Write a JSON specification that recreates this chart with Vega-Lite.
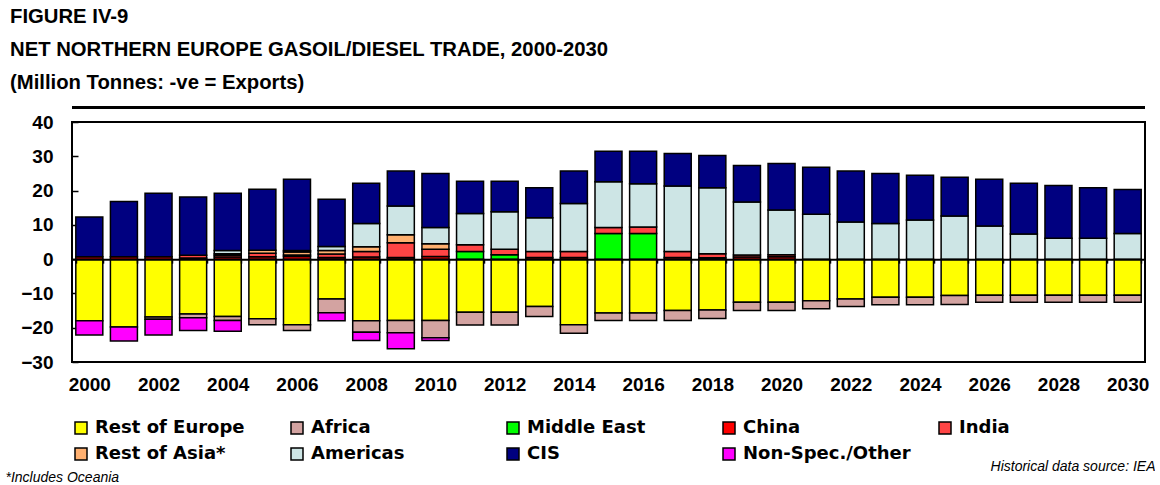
{
  "$schema": "https://vega.github.io/schema/vega-lite/v6.json",
  "width": 1073,
  "height": 240,
  "padding": {"left": 5, "top": 6, "right": 0, "bottom": 0},
  "background": "white",
  "title": {
    "text": ["FIGURE IV-9", "NET NORTHERN EUROPE GASOIL/DIESEL TRADE, 2000-2030", "(Million Tonnes: -ve = Exports)"],
    "anchor": "start",
    "frame": "group",
    "dx": -62,
    "font": "Liberation Sans",
    "fontSize": 20.3,
    "fontWeight": "bold",
    "lineHeight": 33,
    "offset": 13,
    "color": "black"
  },
  "datasets": {
    "regions": [
      {"region": "Rest of Europe", "k": 1},
      {"region": "Africa", "k": 2},
      {"region": "Middle East", "k": 3},
      {"region": "China", "k": 4},
      {"region": "India", "k": 5},
      {"region": "Rest of Asia*", "k": 6},
      {"region": "Americas", "k": 7},
      {"region": "CIS", "k": 8},
      {"region": "NonSpec", "k": 9}
    ]
  },
  "data": {
    "values": [
      {"year": "2000", "China": 0.7, "CIS": 11.6, "Rest of Europe": -18.0, "NonSpec": -4.1},
      {"year": "2001", "China": 0.7, "CIS": 16.1, "Rest of Europe": -19.8, "NonSpec": -4.1},
      {"year": "2002", "China": 0.7, "CIS": 18.5, "Rest of Europe": -16.9, "Africa": -0.6, "NonSpec": -4.6},
      {"year": "2003", "China": 0.3, "India": 0.8, "CIS": 17.0, "Rest of Europe": -16.0, "Africa": -1.1, "NonSpec": -3.7},
      {"year": "2004", "China": 0.6, "India": 0.5, "Rest of Asia*": 0.5, "Americas": 0.9, "CIS": 16.7, "Rest of Europe": -16.7, "Africa": -1.2, "NonSpec": -3.1},
      {"year": "2005", "China": 0.7, "India": 1.0, "Rest of Asia*": 0.9, "CIS": 17.8, "Rest of Europe": -17.4, "Africa": -1.7},
      {"year": "2006", "China": 0.8, "India": 0.4, "Rest of Asia*": 0.9, "Americas": 0.4, "CIS": 20.8, "Rest of Europe": -19.1, "Africa": -1.7},
      {"year": "2007", "China": 0.5, "India": 1.0, "Rest of Asia*": 1.0, "Americas": 1.2, "CIS": 13.8, "Rest of Europe": -11.6, "Africa": -4.0, "NonSpec": -2.4},
      {"year": "2008", "China": 0.6, "India": 1.6, "Rest of Asia*": 1.4, "Americas": 6.8, "CIS": 11.7, "Rest of Europe": -18.0, "Africa": -3.3, "NonSpec": -2.4},
      {"year": "2009", "China": 0.5, "India": 4.3, "Rest of Asia*": 2.3, "Americas": 8.4, "CIS": 10.2, "Rest of Europe": -17.9, "Africa": -3.6, "NonSpec": -4.6},
      {"year": "2010", "China": 0.8, "India": 2.1, "Rest of Asia*": 1.6, "Americas": 4.7, "CIS": 15.8, "Rest of Europe": -17.9, "Africa": -5.0, "NonSpec": -0.8},
      {"year": "2011", "Middle East": 2.2, "India": 2.0, "Americas": 9.1, "CIS": 9.4, "Rest of Europe": -15.5, "Africa": -3.7},
      {"year": "2012", "Middle East": 1.3, "India": 1.6, "Americas": 10.9, "CIS": 8.9, "Rest of Europe": -15.5, "Africa": -3.7},
      {"year": "2013", "China": 0.5, "India": 1.7, "Americas": 9.9, "CIS": 8.7, "Rest of Europe": -13.8, "Africa": -2.9},
      {"year": "2014", "China": 0.5, "India": 1.7, "Americas": 14.0, "CIS": 9.5, "Rest of Europe": -19.1, "Africa": -2.5},
      {"year": "2015", "Middle East": 7.5, "India": 1.7, "Americas": 13.4, "CIS": 8.9, "Rest of Europe": -15.7, "Africa": -2.2},
      {"year": "2016", "Middle East": 7.5, "India": 1.9, "Americas": 12.6, "CIS": 9.5, "Rest of Europe": -15.7, "Africa": -2.2},
      {"year": "2017", "China": 0.5, "India": 1.7, "Americas": 19.1, "CIS": 9.5, "Rest of Europe": -15.0, "Africa": -2.9},
      {"year": "2018", "China": 0.4, "India": 1.2, "Americas": 19.2, "CIS": 9.4, "Rest of Europe": -14.8, "Africa": -2.5},
      {"year": "2019", "China": 0.6, "India": 0.6, "Americas": 15.5, "CIS": 10.6, "Rest of Europe": -12.6, "Africa": -2.4},
      {"year": "2020", "China": 0.7, "India": 0.6, "Americas": 13.0, "CIS": 13.6, "Rest of Europe": -12.6, "Africa": -2.4},
      {"year": "2021", "Americas": 13.1, "CIS": 13.7, "Rest of Europe": -12.1, "Africa": -2.4},
      {"year": "2022", "Americas": 10.8, "CIS": 14.9, "Rest of Europe": -11.6, "Africa": -2.2},
      {"year": "2023", "Americas": 10.4, "CIS": 14.6, "Rest of Europe": -11.1, "Africa": -2.2},
      {"year": "2024", "Americas": 11.4, "CIS": 13.1, "Rest of Europe": -11.1, "Africa": -2.2},
      {"year": "2025", "Americas": 12.6, "CIS": 11.3, "Rest of Europe": -10.6, "Africa": -2.6},
      {"year": "2026", "Americas": 9.7, "CIS": 13.6, "Rest of Europe": -10.5, "Africa": -2.1},
      {"year": "2027", "Americas": 7.3, "CIS": 14.8, "Rest of Europe": -10.5, "Africa": -2.1},
      {"year": "2028", "Americas": 6.1, "CIS": 15.4, "Rest of Europe": -10.5, "Africa": -2.1},
      {"year": "2029", "Americas": 6.1, "CIS": 14.7, "Rest of Europe": -10.5, "Africa": -2.1},
      {"year": "2030", "Americas": 7.5, "CIS": 12.8, "Rest of Europe": -10.5, "Africa": -2.1}
    ]
  },
  "transform": [
    {"fold": ["Rest of Europe", "Africa", "Middle East", "China", "India", "Rest of Asia*", "Americas", "CIS", "NonSpec"], "as": ["region", "value"]},
    {"filter": "isValid(datum.value)"},
    {"lookup": "region", "from": {"data": {"name": "regions"}, "key": "region", "fields": ["k"]}}
  ],
  "layer": [
    {
      "mark": {"type": "bar", "stroke": "black", "strokeWidth": 1.5, "opacity": 1},
      "encoding": {
        "x": {
          "field": "year",
          "type": "ordinal",
          "scale": {"paddingInner": 0.22, "paddingOuter": 0.11},
          "axis": {
            "orient": "bottom",
            "offset": -102.857,
            "zindex": 1,
            "domainColor": "black",
            "domainWidth": 2,
            "tickBand": "extent",
            "tickSize": 4,
            "tickWidth": 1.5,
            "tickColor": "black",
            "labelAngle": 0,
            "labelPadding": 112,
            "labelOverlap": false,
            "labelFlush": false,
            "labelExpr": "toNumber(datum.value) % 2 == 0 ? datum.value : ''",
            "title": "Historical data source: IEA",
            "titleFont": "Liberation Sans",
            "titleFontStyle": "italic",
            "titleFontWeight": "normal",
            "titleFontSize": 14,
            "titleColor": "black",
            "titleX": 1083,
            "titleY": 211,
            "titleAlign": "right",
            "titleAnchor": "end",
            "titleBaseline": "alphabetic"
          }
        },
        "y": {
          "field": "value",
          "type": "quantitative",
          "stack": "zero",
          "scale": {"domain": [-30, 40], "nice": false},
          "axis": {
            "values": [-30, -20, -10, 0, 10, 20, 30, 40],
            "offset": -6,
            "domain": false,
            "grid": false,
            "labelOverlap": false,
            "labelFlush": false,
            "labelBound": false,
            "tickSize": 6,
            "tickWidth": 1.5,
            "tickColor": "black",
            "labelPadding": 19,
            "title": "*Includes Oceania",
            "titleFont": "Liberation Sans",
            "titleFontStyle": "italic",
            "titleFontWeight": "normal",
            "titleFontSize": 14,
            "titleColor": "black",
            "titleAngle": 0,
            "titleX": -73,
            "titleY": 359,
            "titleAlign": "left",
            "titleBaseline": "alphabetic"
          }
        },
        "order": {"field": "k", "type": "quantitative", "sort": "ascending"},
        "color": {
          "field": "region",
          "type": "nominal",
          "scale": {
            "domain": ["Rest of Europe", "Africa", "Middle East", "China", "India", "Rest of Asia*", "Americas", "CIS", "NonSpec"],
            "range": ["#FFFF00", "#D3A3A1", "#00FF00", "#FF0000", "#FF4545", "#FFB070", "#CDE5E5", "#000080", "#FF00FF"]
          },
          "legend": {
            "orient": "none",
            "legendX": 0,
            "legendY": 297,
            "direction": "horizontal",
            "columns": 5,
            "title": null,
            "gridAlign": "all",
            "columnPadding": 25,
            "rowPadding": 8,
            "symbolType": "square",
            "symbolSize": 144,
            "symbolStrokeColor": "black",
            "symbolStrokeWidth": 1.5,
            "symbolOpacity": 1,
            "labelFont": "DejaVu Sans",
            "labelFontWeight": "bold",
            "labelFontSize": 18,
            "labelColor": "black",
            "labelOffset": 5,
            "labelLimit": 400,
            "labelExpr": "datum.label == 'NonSpec' ? 'Non-Spec./Other' : datum.label"
          }
        }
      }
    },
    {
      "mark": {"type": "rule", "color": "black", "strokeWidth": 2},
      "encoding": {
        "y": {
          "datum": 44.3,
          "type": "quantitative",
          "axis": {
            "values": [-30, -20, -10, 0, 10, 20, 30, 40],
            "offset": -6,
            "domain": false,
            "grid": false,
            "labelOverlap": false,
            "labelFlush": false,
            "labelBound": false,
            "tickSize": 6,
            "tickWidth": 1.5,
            "tickColor": "black",
            "labelPadding": 19,
            "title": "*Includes Oceania",
            "titleFont": "Liberation Sans",
            "titleFontStyle": "italic",
            "titleFontWeight": "normal",
            "titleFontSize": 14,
            "titleColor": "black",
            "titleAngle": 0,
            "titleX": -73,
            "titleY": 359,
            "titleAlign": "left",
            "titleBaseline": "alphabetic"
          }
        }
      }
    }
  ],
  "config": {
    "view": {"stroke": "black", "strokeWidth": 2},
    "axis": {"labelFont": "Liberation Sans", "labelFontWeight": "bold", "labelFontSize": 19, "labelColor": "black", "labelOverlap": false},
    "axisY": {"labelOverlap": false}
  }
}
